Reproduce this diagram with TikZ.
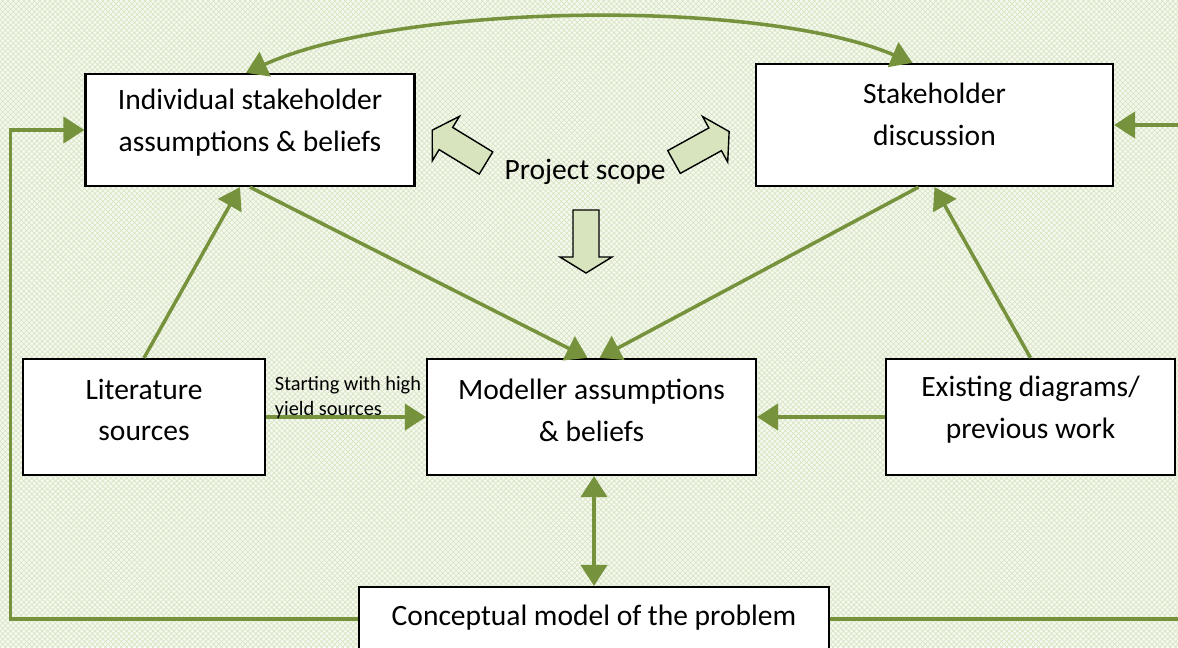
\documentclass[tikz,border=0pt]{standalone}
\usepackage{fontspec}
\setmainfont{Carlito}
\usetikzlibrary{arrows.meta,calc,patterns}
\definecolor{arrowgreen}{RGB}{118,146,60}
\definecolor{scopefill}{RGB}{215,228,189}
\definecolor{bgbase}{RGB}{246,249,240}
\definecolor{bghatch}{RGB}{216,229,196}

\tikzset{scopearrow/.pic={
  \draw[fill=scopefill, line width=0.8pt, line join=miter]
    (0,-13) -- (47,-13) -- (47,-26) -- (63,0) -- (47,26) -- (47,13) -- (0,13) -- cycle;
}}

\begin{document}
\begin{tikzpicture}[x=0.02cm,y=-0.02cm]
\tikzstyle{every node}+=[font=\fontsize{16.8}{23.8}\selectfont]
\tikzstyle{box}=[draw=black, fill=white, line width=1.3pt, inner sep=0pt]
\tikzstyle{boxtext}=[align=center, yshift=4pt]
\tikzstyle{link}=[draw=arrowgreen, line width=2pt, -{Triangle[length=12pt,width=15pt]}]

% background
\fill[bgbase] (0,0) rectangle (1178,647);
\fill[pattern=crosshatch, pattern color=bghatch] (0,0) rectangle (1178,647);
\useasboundingbox (0,0) rectangle (1178,647);

% boxes
\node[box, minimum width=6.58cm, minimum height=2.24cm,
  label={[boxtext]center:Individual stakeholder\\assumptions \& beliefs}] (indiv) at (250,130) {};
\node[box, minimum width=7.14cm, minimum height=2.44cm,
  label={[boxtext, yshift=2pt]center:Stakeholder\\discussion}] (discuss) at (934.5,125) {};
\node[box, minimum width=4.84cm, minimum height=2.32cm,
  label={[boxtext]center:Literature\\sources}] (lit) at (144,417) {};
\node[box, minimum width=6.58cm, minimum height=2.32cm,
  label={[boxtext]center:Modeller assumptions\\\& beliefs}] (modeller) at (591.5,417) {};
\node[box, minimum width=5.78cm, minimum height=2.32cm,
  label={[boxtext]center:Existing diagrams/\\previous work}] (exist) at (1030.5,417) {};
\node[box, minimum width=9.4cm, minimum height=1.28cm,
  label={[boxtext, yshift=-3pt]center:Conceptual model of the problem}] (concept) at (594,619) {};

% project scope
\node (scope) at (585,172) {Project scope};
\pic[rotate=148.6] at (486,163) {scopearrow};
\pic[rotate=28.9] at (674,162) {scopearrow};
\pic[rotate=-90] at (586,210) {scopearrow};

% connectors
\draw[link] (lit.north) -- ($(indiv.south)+(-10,0)$);
\draw[link] (indiv.south) -- ($(modeller.north)+(-4,0)$);
\draw[link] ($(discuss.south)+(-16,0)$) -- ($(modeller.north)+(8,0)$);
\draw[link] (exist.north) -- (discuss.south);
\draw[link] (lit.east) -- (modeller.west)
  node[pos=0.0, above, anchor=south west, align=left, inner sep=1pt, xshift=3pt, yshift=-3pt,
       font=\fontsize{11.6}{14.2}\selectfont] (yield) {Starting with high\\yield sources};
\draw[link] (exist.west) -- (modeller.east);
\draw[link, {Triangle[length=12pt,width=15pt]}-{Triangle[length=12pt,width=15pt]}]
  (modeller.south -| concept.north) -- (concept.north);
\draw[link] (concept.west) -| ($(indiv.west)+(-74,0)$) -- (indiv.west);
\coordinate (rightedge) at (1182,125);
\draw[link] (concept.east) -| (rightedge) -- (discuss.east);
\draw[link, {Triangle[length=12pt,width=15pt]}-{Triangle[length=12pt,width=15pt]}]
  ($(indiv.north)+(-4,0)$) .. controls (400,3) and (760,-2) .. ($(discuss.north)+(-22,0)$);
\end{tikzpicture}
\end{document}
